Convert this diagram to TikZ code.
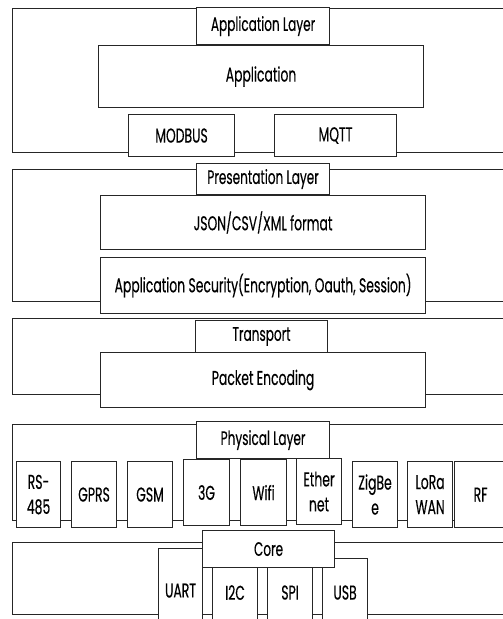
\documentclass[tikz,border=0pt]{standalone}
\usepackage{fontspec}
\setmainfont[FakeStretch=0.62, FakeBold=0.3]{Poppins}
\begin{document}
\begin{tikzpicture}[x=1pt,y=-1pt,
  frame/.style={draw=black!85, line width=1.1pt, inner sep=0pt, anchor=north west},
  blk/.style={draw=black!85, fill=white, line width=1.1pt, inner sep=0pt,
    align=center, anchor=north west, font=\fontsize{20}{24}\selectfont},
  tab/.style={blk, font=\fontsize{19.5}{22}\selectfont},
  phy/.style={blk, font=\fontsize{20}{25}\selectfont},
]
% box from corner (#3,#4) to corner (#5,#6)
\newcommand\boxat[7][blk]{\node[#1, minimum width={#5-#3}, minimum height={#6-#4}] (#2) at (#3,#4) {#7};}
\useasboundingbox (0,0) rectangle (503,619);
\clip (0,0) rectangle (503,619);

% layer frames (open to the right)
\boxat[frame]{appframe}{12}{8}{530}{152}{}
\boxat[frame]{presframe}{12}{169}{530}{301}{}
\boxat[frame]{transframe}{12}{318}{530}{394}{}
\boxat[frame]{phyframe}{12}{424}{530}{520}{}
\boxat[frame]{coreframe}{12}{542}{530}{614}{}

% application layer
\boxat[tab]{apptab}{196}{7}{329}{44}{Application Layer}
\boxat{app}{98}{45}{423}{107}{Application}
\boxat{modbus}{128}{114}{234}{156}{MODBUS}
\boxat{mqtt}{274}{114}{396}{156}{MQTT}

% presentation layer
\boxat[tab]{prestab}{196}{163}{329}{194}{Presentation Layer}
\boxat{fmt}{100}{195}{425}{249}{JSON/CSV/XML format}
\boxat{sec}{100}{257}{425}{313}{Application Security(Encryption, Oauth, Session)}

% transport
\boxat[tab]{transtab}{195}{320}{327}{352}{Transport}
\boxat{pkt}{100}{352}{425}{407}{Packet Encoding}

% physical layer
\boxat[tab]{phytab}{196}{421}{329}{458}{Physical Layer}
\boxat[phy]{rs}{16}{461}{60}{527}{RS-\\485}
\boxat[phy]{gprs}{71}{461}{116}{527}{GPRS}
\boxat[phy]{gsm}{127}{461}{172}{527}{GSM}
\boxat[phy]{g3}{183}{459}{229}{525}{3G}
\boxat[phy]{wifi}{240}{459}{286}{525}{Wifi}
\boxat[phy]{eth}{296}{458}{341}{524}{Ether\\net}
\boxat[phy]{zig}{352}{461}{397}{527}{ZigBe\\e}
\boxat[phy]{lora}{407}{461}{452}{527}{LoRa\\WAN}
\boxat[phy]{rf}{454}{461}{506}{527}{RF}

% core
\boxat{uart}{158}{548}{202}{632}{UART}
\boxat{iic}{212}{556}{257}{628}{I2C}
\boxat{spi}{267}{556}{312}{628}{SPI}
\boxat{usb}{322}{558}{367}{626}{USB}
\boxat[tab]{coretab}{202}{530}{334}{567}{Core}
\end{tikzpicture}
\end{document}
